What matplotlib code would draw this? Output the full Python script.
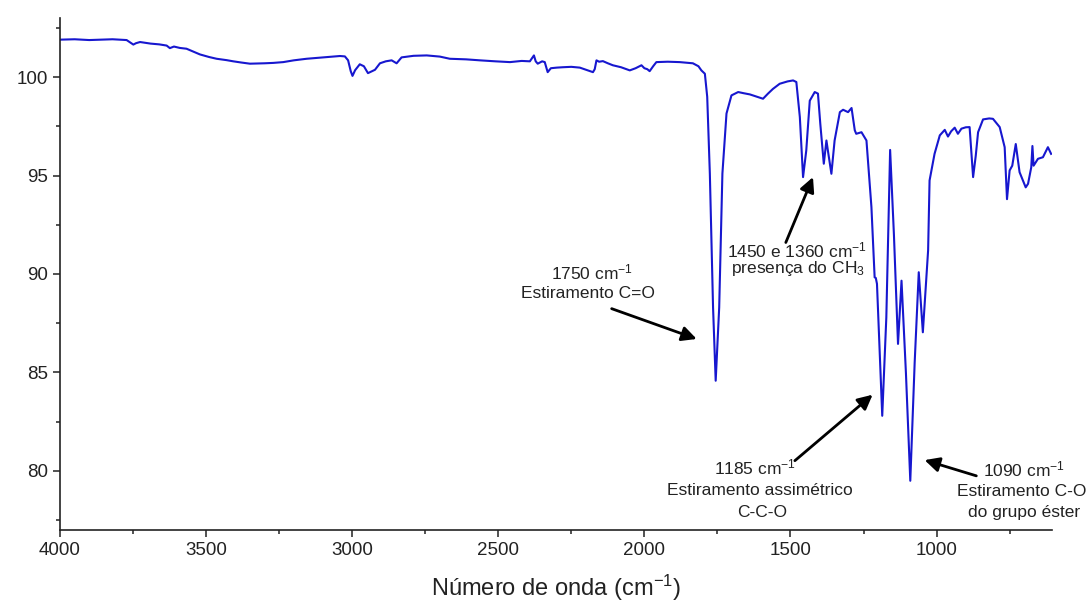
import matplotlib
matplotlib.use('Agg')
import matplotlib.pyplot as plt
import numpy as np

plt.rcParams['font.family'] = ['Liberation Sans', 'DejaVu Sans']
plt.rcParams['mathtext.fontset'] = 'custom'
plt.rcParams['mathtext.rm'] = 'Liberation Sans'
plt.rcParams['mathtext.it'] = 'Liberation Sans:italic'
plt.rcParams['mathtext.default'] = 'regular'

# wavenumber (cm-1) and transmittance (%)
wavenumber = [4000, 3950, 3900, 3863, 3820, 3772, 3749, 3740, 3726, 3690, 3660, 3635,
              3624, 3610, 3590, 3567, 3545, 3521, 3490, 3464, 3430, 3407, 3380, 3350,
              3300, 3270, 3236, 3200, 3156, 3100, 3042, 3025, 3014, 3005, 2999, 2990,
              2974, 2960, 2946, 2935, 2922, 2905, 2885, 2865, 2848, 2831, 2790, 2745,
              2700, 2666, 2610, 2563, 2510, 2460, 2420, 2392, 2385, 2378, 2372, 2365,
              2350, 2341, 2336, 2331, 2320, 2300, 2279, 2250, 2221, 2195, 2176, 2170,
              2164, 2155, 2142, 2125, 2108, 2080, 2050, 2030, 2010, 2000, 1990, 1982,
              1970, 1959, 1920, 1879, 1850, 1834, 1815, 1805, 1793, 1785, 1776, 1765,
              1756, 1744, 1733, 1719, 1702, 1679, 1660, 1639, 1610, 1594, 1577, 1560,
              1537, 1510, 1491, 1480, 1468, 1457, 1446, 1434, 1417, 1406, 1398, 1386,
              1377, 1372, 1360, 1349, 1331, 1320, 1303, 1291, 1280, 1275, 1257, 1240,
              1223, 1212, 1208, 1204, 1186, 1172, 1159, 1146, 1132, 1120, 1105, 1090,
              1075, 1061, 1047, 1029, 1024, 1007, 989, 972, 961, 950, 938, 927,
              915, 900, 887, 875, 866, 858, 841, 820, 807, 784, 767, 759,
              750, 741, 729, 716, 695, 687, 676, 672, 668, 653, 636, 619, 608]
transmittance = [101.90, 101.92, 101.88, 101.90, 101.92, 101.88, 101.65, 101.72, 101.78, 101.70, 101.66, 101.60,
                 101.47, 101.55, 101.48, 101.44, 101.30, 101.15, 101.02, 100.93, 100.86, 100.80, 100.74, 100.68,
                 100.70, 100.72, 100.76, 100.85, 100.93, 101.00, 101.07, 101.05, 100.85, 100.30, 100.06, 100.35,
                 100.65, 100.55, 100.20, 100.28, 100.37, 100.70, 100.80, 100.85, 100.70, 101.00, 101.08, 101.10,
                 101.04, 100.93, 100.90, 100.85, 100.80, 100.76, 100.82, 100.80, 100.95, 101.10, 100.80, 100.68,
                 100.80, 100.76, 100.50, 100.25, 100.45, 100.48, 100.50, 100.52, 100.48, 100.35, 100.25, 100.40,
                 100.85, 100.78, 100.81, 100.70, 100.60, 100.50, 100.34, 100.45, 100.60, 100.45, 100.40, 100.30,
                 100.55, 100.76, 100.78, 100.76, 100.72, 100.70, 100.55, 100.34, 100.17, 99.00, 95.10, 88.30,
                 84.58, 88.30, 95.10, 98.15, 99.07, 99.24, 99.18, 99.12, 98.98, 98.90, 99.16, 99.40,
                 99.66, 99.78, 99.83, 99.75, 97.97, 94.92, 96.27, 98.80, 99.24, 99.16, 97.63, 95.60,
                 96.78, 96.27, 95.09, 96.78, 98.22, 98.34, 98.22, 98.43, 97.30, 97.12, 97.20, 96.78,
                 93.40, 89.83, 89.80, 89.50, 82.80, 87.80, 96.30, 92.00, 86.45, 89.66, 85.00, 79.50,
                 85.50, 90.09, 87.04, 91.20, 94.75, 96.10, 97.04, 97.32, 96.98, 97.25, 97.43, 97.12,
                 97.38, 97.45, 97.46, 94.92, 96.00, 97.20, 97.85, 97.90, 97.88, 97.46, 96.44, 93.80,
                 95.26, 95.50, 96.60, 95.17, 94.40, 94.58, 95.42, 96.50, 95.50, 95.85, 95.93, 96.44, 96.10]

x_ticks = [4000, 3500, 3000, 2500, 2000, 1500, 1000]
y_ticks = [80, 85, 90, 95, 100]

# annotation: text lines (wn, value, text) and arrows (tail, tip)
notes = [
    [(2180, 90.1, '1750 cm$^{-1}$'), (2194, 89.0, 'Estiramento C=O')],
    [(1479, 91.2, '1450 e 1360 cm$^{-1}$'), (1476, 90.3, 'presença do CH$_3$')],
    [(1622, 80.2, '1185 cm$^{-1}$'), (1605, 79.0, 'Estiramento assimétrico'), (1598, 77.87, 'C-C-O')],
    [(702, 80.1, '1090 cm$^{-1}$'), (709, 78.94, 'Estiramento C-O'), (702, 77.87, 'do grupo éster')],
]
arrows = [
    ((2112, 88.24), (1821, 86.7)),
    ((1516, 91.6), (1423, 94.92)),
    ((1485, 80.52), (1219, 83.87)),
    ((864, 79.75), (1041, 80.55)),
]

fig = plt.figure(figsize=(10.91, 6.07), dpi=100)
ax = fig.add_axes([60/1091, 77/607, 992/1091, 512/607])

ax.plot(wavenumber, transmittance, color='#1717cf', lw=1.5)

ax.set_xlim(4000, 605)
ax.set_ylim(77, 103)
ax.set_xticks(x_ticks)
ax.set_yticks(y_ticks)
ax.xaxis.set_minor_locator(matplotlib.ticker.MultipleLocator(250))
ax.yaxis.set_minor_locator(matplotlib.ticker.MultipleLocator(2.5))
ax.tick_params(which='major', length=5, width=1.1, labelsize=13.5, colors='#222222')
ax.tick_params(which='minor', length=3, width=1.1, colors='#222222')
for s in ['top', 'right']:
    ax.spines[s].set_visible(False)
for s in ['left', 'bottom']:
    ax.spines[s].set_linewidth(1.2)
    ax.spines[s].set_color('#222222')

ax.set_xlabel('Número de onda (cm$^{-1}$)', fontsize=17, color='#222222', labelpad=10)

for lines in notes:
    for wx, wy, txt in lines:
        ax.text(wx, wy, txt, ha='center', va='center', fontsize=12.5, color='#222222')
for tail, tip in arrows:
    ax.annotate('', xy=tip, xytext=tail,
                arrowprops=dict(arrowstyle='-|>', color='black', lw=2, mutation_scale=22,
                                shrinkA=0, shrinkB=0))

plt.savefig('out.png', dpi=100)
